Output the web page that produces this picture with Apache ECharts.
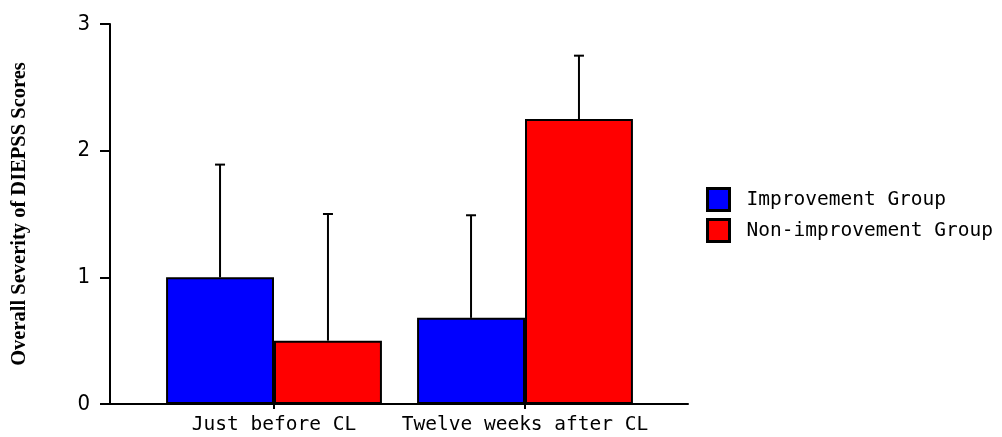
<!DOCTYPE html>
<html>
<head>
<meta charset="utf-8">
<script src="https://cdn.jsdelivr.net/npm/echarts@6/dist/echarts.min.js"></script>
<style>html,body{margin:0;padding:0;background:#fff;}#c{width:1002px;height:437px;}</style>
</head>
<body>
<div id="c"></div>
<script>
var categories = ['Just before CL', 'Twelve weeks after CL'];
var seriesNames = ['Improvement Group', 'Non-improvement Group'];
var improvementMean = [1.0, 0.68];
var improvementSD = [0.89, 0.81];
var nonImprovementMean = [0.5, 2.25];
var nonImprovementSD = [1.0, 0.5];
var yTicks = [0, 1, 2, 3];

var BAR_FRAC = 0.43;
var chart = echarts.init(document.getElementById('c'));

function errData(means, sds) {
  return means.map(function (m, i) { return [i, m, m + sds[i]]; });
}
function errRender(side) {
  return function (params, api) {
    var band = api.size([1, 0])[0];
    var off = side * band * BAR_FRAC / 2;
    var p0 = api.coord([api.value(0), api.value(1)]);
    var p1 = api.coord([api.value(0), api.value(2)]);
    var x = p0[0] + off;
    var cap = 5;
    var st = { stroke: '#000', lineWidth: 2 };
    return {
      type: 'group',
      children: [
        { type: 'line', shape: { x1: x, y1: p0[1], x2: x, y2: p1[1] }, style: st },
        { type: 'line', shape: { x1: x - cap, y1: p1[1], x2: x + cap, y2: p1[1] }, style: st }
      ]
    };
  };
}

var monoFont = 'DejaVu Sans Mono';
var option = {
  animation: false,
  backgroundColor: '#fff',
  grid: [
    { left: 110, right: 314, top: 24, bottom: 33 },
    { left: 148.5, right: 351.5, top: 24, bottom: 33 }
  ],
  legend: {
    orient: 'vertical',
    left: 701,
    top: 182,
    itemWidth: 22,
    itemHeight: 22,
    itemGap: 6,
    icon: 'rect',
    itemStyle: { borderColor: '#000', borderWidth: 3 },
    textStyle: { fontFamily: monoFont, fontSize: 19.5, color: '#000', padding: [0, 0, 0, 12] },
    data: seriesNames
  },
  xAxis: [
    {
      type: 'value', gridIndex: 0, min: 0, max: 1,
      axisLine: { show: true, lineStyle: { color: '#000', width: 2 } },
      axisTick: { show: false }, axisLabel: { show: false }, splitLine: { show: false }
    },
    {
      type: 'category', gridIndex: 1, data: categories,
      axisLine: { show: false },
      axisTick: { show: true, alignWithLabel: true, length: 5, lineStyle: { color: '#000', width: 2 } },
      axisLabel: { interval: 0, fontFamily: monoFont, fontSize: 19.5, color: '#000', margin: 11 },
      splitLine: { show: false }
    }
  ],
  yAxis: [
    {
      type: 'value', gridIndex: 0, min: 0, max: 3, interval: 1,
      name: 'Overall Severity of DIEPSS Scores',
      nameLocation: 'middle', nameRotate: 90, nameGap: 80,
      nameTextStyle: { fontFamily: 'Liberation Serif', fontWeight: 'bold', fontSize: 20.5, color: '#000' },
      axisLine: { show: true, lineStyle: { color: '#000', width: 2 } },
      axisTick: { show: true, length: 10, lineStyle: { color: '#000', width: 2 } },
      axisLabel: {
        fontFamily: '"Liberation Sans Narrow", "DejaVu Sans Condensed", sans-serif', fontSize: 22, color: '#000', margin: 20,
        formatter: function (v) { return yTicks.indexOf(v) >= 0 ? String(v) : ''; }
      },
      splitLine: { show: false }
    },
    { type: 'value', gridIndex: 1, min: 0, max: 3, interval: 1, show: false }
  ],
  series: [
    {
      name: seriesNames[0], type: 'bar', xAxisIndex: 1, yAxisIndex: 1,
      data: improvementMean, barWidth: (BAR_FRAC * 100) + '%', barGap: '0%',
      itemStyle: { color: '#0000ff', borderColor: '#000', borderWidth: 2 }
    },
    {
      name: seriesNames[1], type: 'bar', xAxisIndex: 1, yAxisIndex: 1,
      data: nonImprovementMean, barWidth: (BAR_FRAC * 100) + '%', barGap: '0%',
      itemStyle: { color: '#ff0000', borderColor: '#000', borderWidth: 2 }
    },
    {
      type: 'custom', xAxisIndex: 1, yAxisIndex: 1, z: 5,
      renderItem: errRender(-1), data: errData(improvementMean, improvementSD),
      encode: { x: 0, y: [1, 2] }
    },
    {
      type: 'custom', xAxisIndex: 1, yAxisIndex: 1, z: 5,
      renderItem: errRender(1), data: errData(nonImprovementMean, nonImprovementSD),
      encode: { x: 0, y: [1, 2] }
    }
  ]
};
chart.setOption(option);
</script>
</body>
</html>
